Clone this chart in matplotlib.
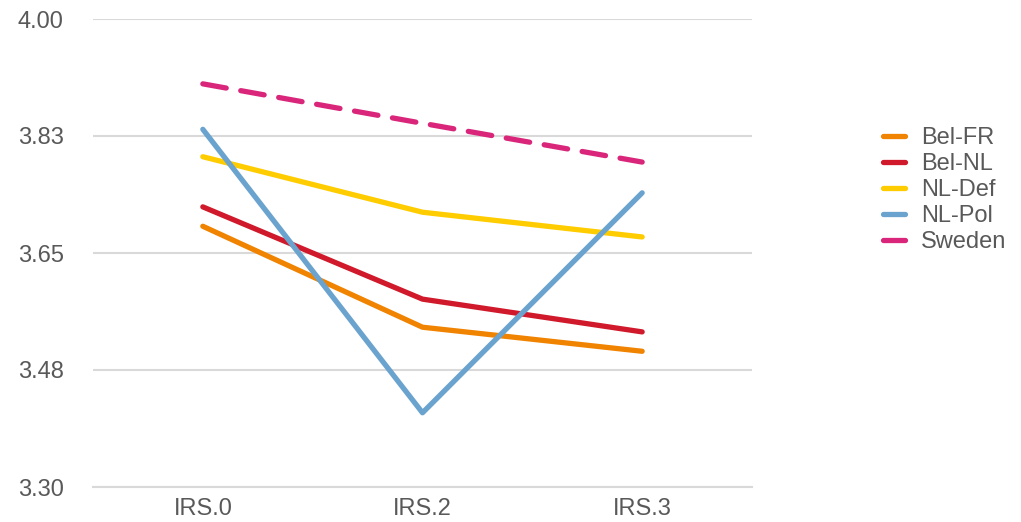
import matplotlib.pyplot as plt

plt.rcParams['font.family'] = ['Liberation Sans', 'DejaVu Sans']

categories = ["IRS.0", "IRS.2", "IRS.3"]
series_names = ["Bel-FR", "Bel-NL", "NL-Def", "NL-Pol", "Sweden"]
bel_fr = [3.690, 3.539, 3.503]
bel_nl = [3.719, 3.581, 3.532]
nl_def = [3.794, 3.711, 3.674]
nl_pol = [3.835, 3.411, 3.740]
sweden = [3.903, 3.844, 3.786]
y_ticks = [3.30, 3.475, 3.65, 3.825, 4.00]
y_tick_labels = ["3.30", "3.48", "3.65", "3.83", "4.00"]

colors = ["#F08300", "#D0192B", "#FFCC00", "#6BA3CF", "#D9267B"]
styles = ["-", "-", "-", "-", (0, (4.5, 2.8))]
font_size = 17

fig = plt.figure(figsize=(10.21, 5.22), dpi=100)
ax = fig.add_axes([93 / 1021, 1 - 487 / 522, (752 - 93) / 1021, (487 - 19) / 522])

x = range(len(categories))
for name, vals, c, ls in zip(series_names, [bel_fr, bel_nl, nl_def, nl_pol, sweden], colors, styles):
    ax.plot(x, vals, color=c, linestyle=ls, linewidth=3.8, solid_capstyle="round",
            dash_capstyle="round", label=name)

ax.set_xlim(-0.5, 2.5)
ax.set_ylim(3.30, 4.00)
ax.set_xticks(list(x))
ax.set_xticklabels(categories)
ax.set_yticks(y_ticks)
ax.set_yticklabels(y_tick_labels)
ax.tick_params(axis="both", length=0, labelsize=font_size, labelcolor="#595959")
ax.tick_params(axis="y", pad=21)
ax.tick_params(axis="x", pad=8)
ax.yaxis.grid(True, color="#D9D9D9", linewidth=1.5)
ax.set_axisbelow(True)
for side in ["top", "right", "left"]:
    ax.spines[side].set_visible(False)
ax.spines["bottom"].set_color("#D9D9D9")
ax.spines["bottom"].set_linewidth(1.5)

leg = ax.legend(loc="center left", bbox_to_anchor=(883 / 1021, 1 - 190 / 522),
                bbox_transform=fig.transFigure, frameon=False, fontsize=font_size,
                handlelength=0.95, handletextpad=0.65, labelspacing=0.17,
                borderpad=0, borderaxespad=0)
for t in leg.get_texts():
    t.set_color("#595959")

fig.savefig("out.png", dpi=100)
